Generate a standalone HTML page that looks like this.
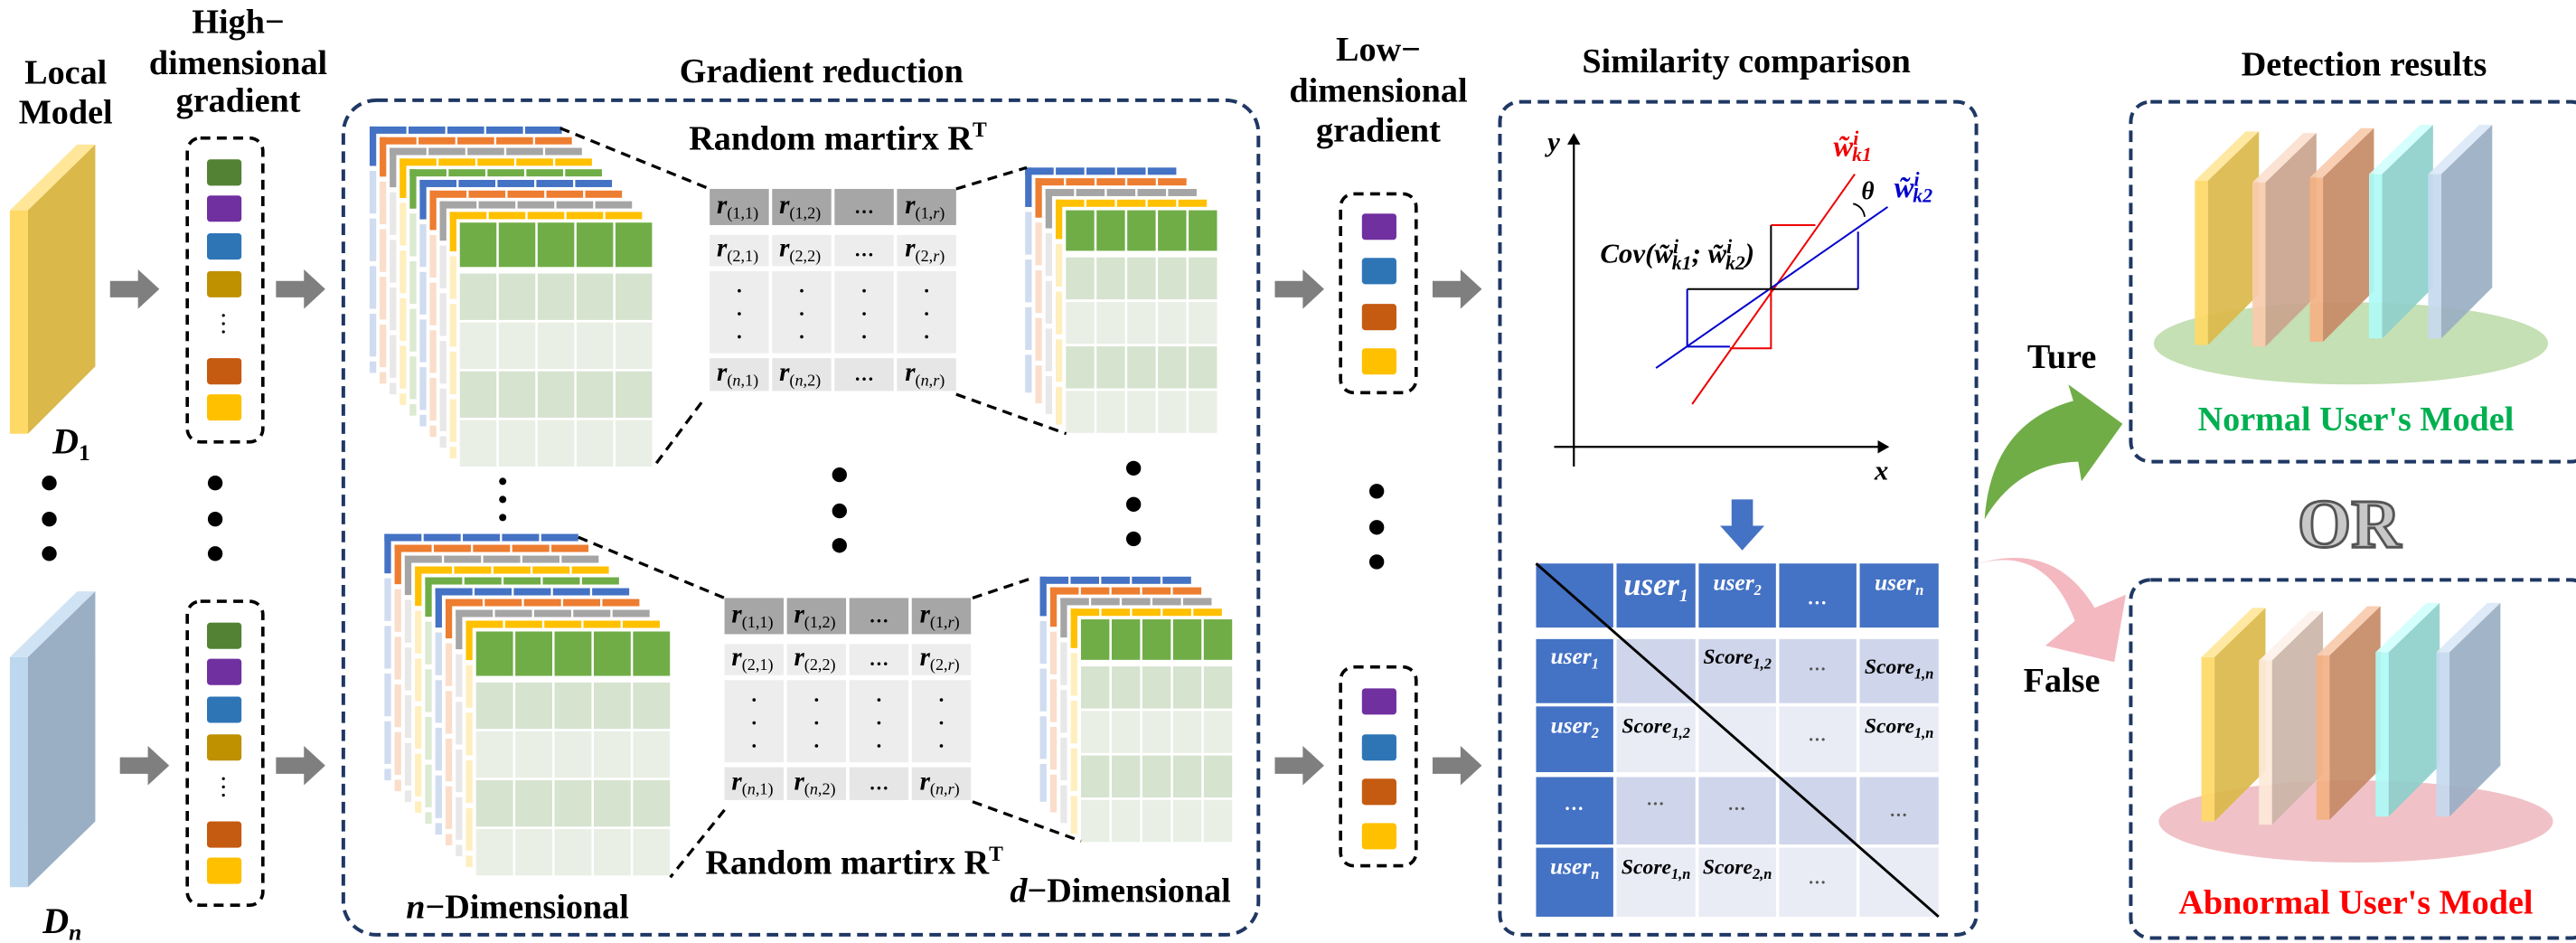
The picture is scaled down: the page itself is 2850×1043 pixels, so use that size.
<!DOCTYPE html>
<html><head><meta charset="utf-8"><style>
html,body{margin:0;padding:0;background:#fff;}
svg{display:block;}
text{font-family:"Liberation Serif",serif;font-weight:bold;}
</style></head><body>
<svg id="s" width="2850" height="1043" viewBox="0 0 1568 574" preserveAspectRatio="none" xmlns="http://www.w3.org/2000/svg">
<defs>
<marker id="ah" markerWidth="8" markerHeight="8" refX="6" refY="4" orient="auto" markerUnits="userSpaceOnUse"><path d="M0,0 L7,4 L0,8 Z" fill="#000"/></marker>
</defs>
<g id="stacks"></g>

<text x="40" y="51" font-size="21" text-anchor="middle">Local</text>
<text x="40" y="75" font-size="21" text-anchor="middle">Model</text>
<polygon points="6,128 17,128 17,264 6,264" fill="#ffd966"/>
<polygon points="6,128 47,88 58,88 17,128" fill="#ffe699"/>
<polygon points="17,128 58,88 58,223 17,264" fill="#dbb84a"/>
<text x="32" y="276" font-size="22" font-style="italic">D<tspan font-size="14" dy="4" font-style="normal">1</tspan></text>
<polygon points="6,400 17,400 17,540 6,540" fill="#bdd7ee"/>
<polygon points="6,400 47,360 58,360 17,400" fill="#d0e3f4"/>
<polygon points="17,400 58,360 58,500 17,540" fill="#9aafc3"/>
<text x="26" y="568" font-size="22" font-style="italic">D<tspan font-size="14" dy="4" font-style="italic">n</tspan></text>
<g fill="#000"><circle cx="30" cy="294" r="4.5"/><circle cx="30" cy="316" r="4.5"/><circle cx="30" cy="337" r="4.5"/>
<circle cx="131" cy="294" r="4.5"/><circle cx="131" cy="316" r="4.5"/><circle cx="131" cy="337" r="4.5"/></g>

<text x="145" y="20" font-size="21" text-anchor="middle">High−</text>
<text x="145" y="45" font-size="21" text-anchor="middle">dimensional</text>
<text x="145" y="68" font-size="21" text-anchor="middle">gradient</text>
<rect x="114" y="84" width="46" height="185" rx="8" fill="none" stroke="#000" stroke-width="2" stroke-dasharray="6,4"/>
<rect x="114" y="366" width="46" height="185" rx="8" fill="none" stroke="#000" stroke-width="2" stroke-dasharray="6,4"/>
<g id="sq"></g>

<g fill="#7f7f7f" id="arrows"></g>

<text x="500" y="50" font-size="21" text-anchor="middle">Gradient reduction</text>
<rect x="209" y="61" width="557" height="508" rx="20" fill="none" stroke="#1f3864" stroke-width="2.2" stroke-dasharray="7,4"/>
<text x="510" y="91" font-size="21" text-anchor="middle">Random martirx R<tspan font-size="13" dy="-8">T</tspan></text>
<text x="520" y="532" font-size="21" text-anchor="middle">Random martirx R<tspan font-size="13" dy="-8">T</tspan></text>
<text x="315" y="559" font-size="21" text-anchor="middle"><tspan font-style="italic">n</tspan>−Dimensional</text>
<text x="682" y="549" font-size="21" text-anchor="middle"><tspan font-style="italic">d</tspan>−Dimensional</text>
<g id="mats"></g>
<g stroke="#000" stroke-width="1.8" stroke-dasharray="6,4">
<line x1="341" y1="78" x2="432" y2="115"/><line x1="582" y1="115" x2="625" y2="102"/>
<line x1="427" y1="245" x2="398" y2="284"/><line x1="582" y1="240" x2="649" y2="264"/>
<line x1="352" y1="327" x2="441" y2="364"/><line x1="592" y1="364" x2="628" y2="352"/>
<line x1="441" y1="493" x2="408" y2="534"/><line x1="592" y1="488" x2="658" y2="512"/>
</g>
<g fill="#000"><circle cx="306" cy="293" r="2.2"/><circle cx="306" cy="304" r="2.2"/><circle cx="306" cy="315" r="2.2"/>
<circle cx="511" cy="289" r="4.5"/><circle cx="511" cy="311" r="4.5"/><circle cx="511" cy="332" r="4.5"/>
<circle cx="690" cy="285" r="4.5"/><circle cx="690" cy="307" r="4.5"/><circle cx="690" cy="328" r="4.5"/>
<circle cx="838" cy="299" r="4.5"/><circle cx="838" cy="321" r="4.5"/><circle cx="838" cy="342" r="4.5"/></g>

<text x="839" y="37" font-size="21" text-anchor="middle">Low−</text>
<text x="839" y="62" font-size="21" text-anchor="middle">dimensional</text>
<text x="839" y="86" font-size="21" text-anchor="middle">gradient</text>
<rect x="816" y="118" width="46" height="121" rx="8" fill="none" stroke="#000" stroke-width="2" stroke-dasharray="6,4"/>
<rect x="816" y="406" width="46" height="121" rx="8" fill="none" stroke="#000" stroke-width="2" stroke-dasharray="6,4"/>

<text x="1063" y="44" font-size="21" text-anchor="middle">Similarity comparison</text>
<rect x="913" y="62" width="290" height="507" rx="12" fill="none" stroke="#1f3864" stroke-width="2.2" stroke-dasharray="7,4"/>
<line x1="958" y1="284" x2="958" y2="82" stroke="#000" stroke-width="1.2" marker-end="url(#ah)"/>
<line x1="946" y1="272" x2="1149" y2="272" stroke="#000" stroke-width="1.2" marker-end="url(#ah)"/>
<text x="942" y="92" font-size="17" font-style="italic">y</text>
<text x="1141" y="292" font-size="17" font-style="italic">x</text>
<line x1="1030" y1="246" x2="1129" y2="106" stroke="#e00" stroke-width="1.1"/>
<line x1="1008" y1="224" x2="1149" y2="126" stroke="#00c" stroke-width="1.1"/>
<polyline points="1078,176 1078,137" fill="none" stroke="#000" stroke-width="1.1"/>
<polyline points="1078,137 1105,137" fill="none" stroke="#e00" stroke-width="1.1"/>
<polyline points="1027,176 1131,176" fill="none" stroke="#000" stroke-width="1.1"/>
<polyline points="1131,141 1131,176" fill="none" stroke="#00c" stroke-width="1.1"/>
<polyline points="1027,176 1027,211 1053,211" fill="none" stroke="#00c" stroke-width="1.1"/>
<polyline points="1053,212 1078,212 1078,176" fill="none" stroke="#e00" stroke-width="1.1"/>
<path d="M1128,124 A9,9 0 0 1 1135,132" fill="none" stroke="#000" stroke-width="1"/>
<text x="1133" y="121" font-size="15" font-style="italic">θ</text>
<text x="1116" y="95" font-size="18" font-style="italic" fill="#e00">w̃<tspan font-size="12" dy="-7">i</tspan><tspan font-size="12" dx="-4" dy="10">k1</tspan></text>
<text x="1153" y="120" font-size="18" font-style="italic" fill="#00c">w̃<tspan font-size="12" dy="-7">i</tspan><tspan font-size="12" dx="-4" dy="10">k2</tspan></text>
<text x="974" y="160" font-size="17" font-style="italic">Cov(w̃<tspan font-size="12" dy="-6">i</tspan><tspan font-size="12" dx="-4" dy="10">k1</tspan><tspan dy="-4">; w̃</tspan><tspan font-size="12" dy="-6">i</tspan><tspan font-size="12" dx="-4" dy="10">k2</tspan><tspan dy="-4">)</tspan></text>
<polygon points="1054,304 1067,304 1067,320 1074,320 1060.5,335 1047,320 1054,320" fill="#4472c4"/>
<g id="tbl"></g>

<text x="1439" y="46" font-size="21" text-anchor="middle">Detection results</text>
<rect x="1297" y="62" width="280" height="219" rx="12" fill="none" stroke="#1f3864" stroke-width="2.2" stroke-dasharray="7,4"/>
<rect x="1297" y="353" width="280" height="218" rx="12" fill="none" stroke="#1f3864" stroke-width="2.2" stroke-dasharray="7,4"/>
<ellipse cx="1431" cy="209" rx="120" ry="25" fill="#c5e0b4"/>
<ellipse cx="1434" cy="500" rx="120" ry="25" fill="#f0c2c8"/>
<g id="slabs"></g>
<text x="1434" y="262" font-size="21" text-anchor="middle" fill="#00b050">Normal User's Model</text>
<text x="1434" y="556" font-size="21" text-anchor="middle" fill="#ff0000">Abnormal User's Model</text>
<text x="1430" y="333" font-size="42" text-anchor="middle" fill="#c8c8c8" stroke="#555" stroke-width="1.6">OR</text>
<text x="1255" y="224" font-size="21" text-anchor="middle">Ture</text>
<text x="1255" y="421" font-size="21" text-anchor="middle">False</text>
<path d="M1208,316 Q1212,258 1262,244 L1259,234 L1292,258 L1267,293 L1265,281 Q1228,282 1208,316 Z" fill="#70ad47"/>
<path d="M1201,344 Q1245,330 1263,378 L1245,393 L1287,403 L1294,362 L1275,370 Q1250,328 1201,344 Z" fill="#f4b8c0"/>
</svg>
<script>
var NS="http://www.w3.org/2000/svg";
function el(p,t,a){var e=document.createElementNS(NS,t);for(var k in a)e.setAttribute(k,a[k]);p.appendChild(e);return e;}
function R(p,x,y,w,h,f,o){return el(p,"rect",{x:x,y:y,width:w,height:h,fill:f,opacity:o==null?1:o});}
var cols=["#4472c4","#ed7d31","#a5a5a5","#ffc000","#70ad47"];
var g=document.getElementById("stacks");
function stack(x0,y0,dx,dy,n,W,H){
 for(var i=0;i<n;i++){var x=x0+i*dx,y=y0+i*dy,c=cols[i%5];
  R(g,x,y,W,H,"#fff");
  var sw=(W-4*1.3)/5;
  for(var k=0;k<5;k++)R(g,x+k*(sw+1.3),y,sw,4.4,c);
  R(g,x,y,4,24,c);
  for(var yy=y+27;yy<y+H-4;yy+=29)R(g,x,yy,4,Math.min(26,y+H-yy),c,0.25);
 }
 var x=x0+n*dx,y=y0+n*dy;R(g,x,y,W,H,"#fff");
 var cw=(W-4*1.4)/5,hh=H*0.18,rest=H-hh-4,rh=rest/4;
 for(var k=0;k<5;k++){var cx=x+k*(cw+1.4);
  R(g,cx,y,cw,hh,"#70ad47");
  for(var r=0;r<4;r++)R(g,cx,y+hh+4+r*rh,cw,rh-1.5,r%2==0?"#d6e3cf":"#e9efe5");}
}
stack(225,77,6.1,6.5,9,117,150);
stack(624,102,6.2,6.5,4,92,137);
stack(234,325,6.2,6.6,9,118,150);
stack(633,351,6.25,6.5,4,92,137);
var sq=document.getElementById("sq");
function sqs(x,ys,cs){for(var i=0;i<ys.length;i++)el(sq,"rect",{x:x,y:ys[i],width:21,height:16,rx:2,fill:cs[i]});}
var six=["#548235","#7030a0","#2e75b6","#bf9000","#c55a11","#ffc000"];
sqs(126,[97,119,142,165,218,240],six);
sqs(126,[379,401,424,447,500,522],six);
var four=["#7030a0","#2e75b6","#c55a11","#ffc000"];
sqs(829,[130,157,185,212],four);
sqs(829,[419,447,474,501],four);
[[136,192],[136,197],[136,202],[136,474],[136,479],[136,484]].forEach(function(p){el(sq,"circle",{cx:p[0],cy:p[1],r:0.9,fill:"#000"})});
var ag=document.getElementById("arrows");
function arr(x,y){el(ag,"polygon",{points:[x,y+7,x+17,y+7,x+17,y,x+30,y+12,x+17,y+24,x+17,y+17,x,y+17].join(","),fill:"#7f7f7f"});}
arr(67,164);arr(168,164);arr(73,454);arr(168,454);arr(776,164);arr(872,164);arr(776,454);arr(872,454);
var mg=document.getElementById("mats");
function T(p,x,y,s,a){var t=el(p,"text",a||{});t.setAttribute("x",x);t.setAttribute("y",y);t.innerHTML=s;return t;}
function mat(x0,y0){
 var cx=[0,38,76,114],rows=[[0,22,"#a6a6a6"],[28,19,"#ededed"],[50,50,"#ededed"],[103,20,"#e7e6e6"]];
 for(var r=0;r<4;r++)for(var c=0;c<4;c++){R(mg,x0+cx[c],y0+rows[r][0],36,rows[r][1],rows[r][2]);}
 var rn=["1","2","","n"];
 for(var r=0;r<4;r++){if(r==2){for(var c=0;c<4;c++)for(var d=0;d<3;d++)el(mg,"circle",{cx:x0+cx[c]+18,cy:y0+rows[2][0]+12+d*14,r:1,fill:"#000"});continue;}
  var yy=y0+rows[r][0]+rows[r][1]*0.68;
  for(var c=0;c<4;c++){var tx=x0+cx[c]+18;
   if(c==2){T(mg,tx,yy,"…",{"font-size":12,"text-anchor":"middle"});continue;}
   var cc=["1","2","","r"][c];
   T(mg,tx-1,yy,'<tspan font-style="italic">r</tspan><tspan font-size="10" dy="3" font-weight="normal">('+(rn[r]=="n"?"<tspan font-style='italic'>n</tspan>":rn[r])+','+(cc=="r"?"<tspan font-style='italic'>r</tspan>":cc)+')</tspan>',{"font-size":16,"text-anchor":"middle"});}
 }
}
mat(432,115);mat(441,364);
var tg=document.getElementById("tbl");
var tx=[935,984,1034,1083,1132],tw=[47,48,47,47,48],ty=[343,389,430,473,516],th=[39,39,40,41,42];
for(var r=0;r<5;r++)for(var c=0;c<5;c++){var f=(r==0||c==0)?"#4472c4":(r%2==1?"#cfd5ea":"#e9ebf5");R(tg,tx[c],ty[r],tw[c],th[r],f);}
function tt(c,r,s,col,fs,dy){T(tg,tx[c]+tw[c]/2,ty[r]+(dy||16),s,{"font-size":fs||13,"text-anchor":"middle","fill":col,"font-style":"italic"});}
tt(1,0,'user<tspan font-size="11" dy="4">1</tspan>',"#fff",19,19);
tt(2,0,'user<tspan font-size="9" dy="3">2</tspan>',"#fff",14,16);
tt(3,0,'…',"#fff",12,25);
tt(4,0,'user<tspan font-size="9" dy="3">n</tspan>',"#fff",14,16);
tt(0,1,'user<tspan font-size="9" dy="3">1</tspan>',"#fff",14,15);
tt(0,2,'user<tspan font-size="9" dy="3">2</tspan>',"#fff",14,16);
tt(0,3,'…',"#fff",12,20);
tt(0,4,'user<tspan font-size="9" dy="3">n</tspan>',"#fff",14,16);
tt(2,1,'Score<tspan font-size="9" dy="3">1,2</tspan>',"#000",13,15);
tt(3,1,'…',"#555",11,19);
tt(4,1,'Score<tspan font-size="9" dy="3">1,n</tspan>',"#000",13,21);
tt(1,2,'Score<tspan font-size="9" dy="3">1,2</tspan>',"#000",13,16);
tt(3,2,'…',"#555",11,21);
tt(4,2,'Score<tspan font-size="9" dy="3">1,n</tspan>',"#000",13,16);
tt(1,3,'…',"#555",11,17);tt(2,3,'…',"#555",11,20);tt(4,3,'…',"#555",11,24);
tt(1,4,'Score<tspan font-size="9" dy="3">1,n</tspan>',"#000",13,16);
tt(2,4,'Score<tspan font-size="9" dy="3">2,n</tspan>',"#000",13,16);
tt(3,4,'…',"#555",11,22);
el(tg,"line",{x1:935,y1:343,x2:1180,y2:558,stroke:"#000","stroke-width":1.6});
var sg=document.getElementById("slabs");
function slab(x,y,l,d,t){
 el(sg,"polygon",{points:[x,y+30,x+8,y+30,x+8,y+130,x,y+130].join(","),fill:l,opacity:0.92});
 el(sg,"polygon",{points:[x,y+30,x+31,y,x+39,y,x+8,y+30].join(","),fill:t,opacity:0.92});
 el(sg,"polygon",{points:[x+8,y+30,x+39,y,x+39,y+99,x+8,y+130].join(","),fill:d,opacity:0.92});
}
var S1=[["#ffd966","#dbb84a","#ffe699"],["#f8cbad","#c9a48d","#fbe0ce"],["#f4b183","#c58a66","#f8cbad"],["#aefaf5","#8ecfcb","#d0fffc"],["#c5d9ef","#9aafc3","#dbe8f6"]];
var S2=[["#ffd966","#dbb84a","#ffe699"],["#fde9d9","#cbb5a8","#fef2ea"],["#f4b183","#c58a66","#f8cbad"],["#aefaf5","#8ecfcb","#d0fffc"],["#c5d9ef","#9aafc3","#dbe8f6"]];
[1336,1371,1406,1442,1478].forEach(function(x,i){slab(x,[80,81,78,76,76][i],S1[i][0],S1[i][1],S1[i][2]);});
[1340,1375,1410,1446,1483].forEach(function(x,i){slab(x,[370,372,369,367,367][i],S2[i][0],S2[i][1],S2[i][2]);});
</script>
</body></html>
